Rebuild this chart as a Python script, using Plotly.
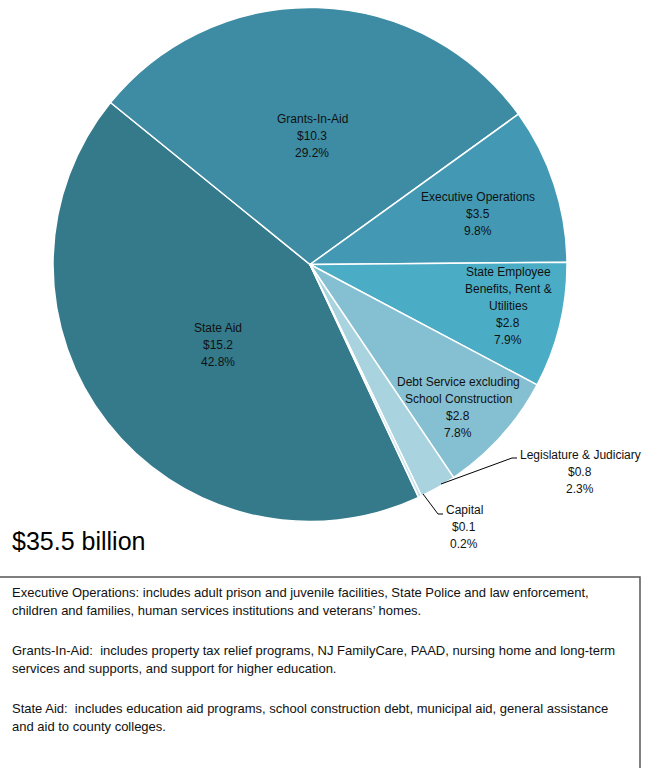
import plotly.graph_objects as go

# Budget categories, dollar amounts (billions) and shares (%)
categories = [
    "State Aid",
    "Grants-In-Aid",
    "Executive Operations",
    "State Employee Benefits, Rent & Utilities",
    "Debt Service excluding School Construction",
    "Legislature & Judiciary",
    "Capital",
]
label_lines = [
    ["State Aid"],
    ["Grants-In-Aid"],
    ["Executive Operations"],
    ["State Employee", "Benefits, Rent &", "Utilities"],
    ["Debt Service excluding", "School Construction"],
    ["Legislature & Judiciary"],
    ["Capital"],
]
amounts = [15.2, 10.3, 3.5, 2.8, 2.8, 0.8, 0.1]
shares = [42.8, 29.2, 9.8, 7.9, 7.8, 2.3, 0.2]
total_label = "$35.5 billion"

notes = [
    ["Executive Operations: includes adult prison and juvenile facilities, State Police and law enforcement,",
     "children and families, human services institutions and veterans\u2019 homes."],
    ["Grants-In-Aid:  includes property tax relief programs, NJ FamilyCare, PAAD, nursing home and long-term",
     "services and supports, and support for higher education."],
    ["State Aid:  includes education aid programs, school construction debt, municipal aid, general assistance",
     "and aid to county colleges."],
]

# Styling / layout
W, H = 647, 768
colors = ["#347A8B", "#3D8CA4", "#4399B4", "#4BACC6", "#85BFD2", "#A8D3DF", "#C6E3EB"]
FONT = "Liberation Sans, Arial, sans-serif"
cx, cy, R = 310, 264.5, 257
# label block centres (pixels) for each slice
label_pos = [(218, 345), (312, 136), (478, 214), (508, 306), (458, 407), (580, 472), (464, 527)]
LABEL_STEP = 17
# leader lines for the two small slices: (start, elbow, end) in pixels
leaders = {5: [(441, 484), (512, 458), (517, 458)], 6: [(423, 494), (438, 514), (443, 514)]}


def px(x):
    return x / W


def py(y):
    return 1 - y / H


fig = go.Figure(
    go.Pie(
        labels=categories,
        values=shares,
        sort=False,
        direction="clockwise",
        rotation=155,
        marker=dict(colors=colors, line=dict(color="white", width=1.5)),
        textinfo="none",
        hoverinfo="label+percent",
        showlegend=False,
        domain=dict(x=[px(cx - R), px(cx + R)], y=[py(cy + R), py(cy - R)]),
    )
)

annotations = []
for i, name_lines in enumerate(label_lines):
    x, y = label_pos[i]
    lines = name_lines + [f"${amounts[i]:.1f}", f"{shares[i]:.1f}%"]
    y0 = y - LABEL_STEP * (len(lines) - 1) / 2
    for k, line in enumerate(lines):
        annotations.append(
            dict(
                text=line,
                x=px(x), y=py(y0 + k * LABEL_STEP), xref="paper", yref="paper",
                xanchor="center", yanchor="middle", align="center",
                showarrow=False, font=dict(family=FONT, size=12, color="#111"),
            )
        )

shapes = []
for i, pts in leaders.items():
    for (x0, y0), (x1, y1) in zip(pts[:-1], pts[1:]):
        shapes.append(
            dict(type="line", xref="paper", yref="paper",
                 x0=px(x0), y0=py(y0), x1=px(x1), y1=py(y1),
                 line=dict(color="black", width=1))
        )

# total
annotations.append(
    dict(text=total_label, x=px(10), y=py(541), xref="paper", yref="paper",
         xanchor="left", yanchor="middle", showarrow=False,
         font=dict(family=FONT, size=25, color="black"))
)

# notes box
shapes.append(
    dict(type="rect", xref="paper", yref="paper",
         x0=px(-2), y0=py(780), x1=px(640), y1=py(577),
         line=dict(color="#555", width=1.5), fillcolor="rgba(0,0,0,0)")
)
for para, ytop in zip(notes, [592, 650, 708]):
    for k, line in enumerate(para):
        annotations.append(
            dict(text=line, x=px(10), y=py(ytop + 18 * k), xref="paper", yref="paper",
                 xanchor="left", yanchor="middle", align="left", showarrow=False,
                 font=dict(family=FONT, size=13, color="#111"))
        )

fig.update_layout(
    width=W, height=H,
    margin=dict(l=0, r=0, t=0, b=0),
    paper_bgcolor="white", plot_bgcolor="white",
    annotations=annotations, shapes=shapes,
)

fig.write_html("out.html")
